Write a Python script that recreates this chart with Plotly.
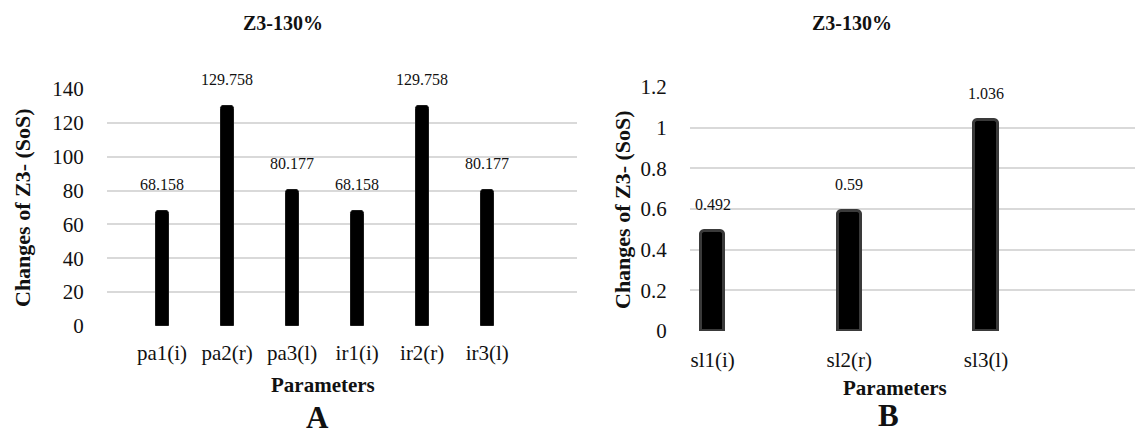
import plotly.graph_objects as go

# Panel A: parameter sensitivity (pa / ir groups)
params_a = ["pa1(i)", "pa2(r)", "pa3(l)", "ir1(i)", "ir2(r)", "ir3(l)"]
values_a = [68.158, 129.758, 80.177, 68.158, 129.758, 80.177]

# Panel B: slope parameters
params_b = ["sl1(i)", "sl2(r)", "sl3(l)"]
values_b = [0.492, 0.59, 1.036]

ticks_a = [0, 20, 40, 60, 80, 100, 120, 140]
ticks_b = [0, 0.2, 0.4, 0.6, 0.8, 1, 1.2]

SERIF = "Liberation Serif, Times New Roman, serif"
GRID = "#d9d9d9"
TXT = "#111111"

fig = go.Figure()

fig.add_trace(go.Bar(
    x=params_a, y=values_a, xaxis="x", yaxis="y",
    width=0.2, marker=dict(color="black", line=dict(color="#1a1a1a", width=1), cornerradius=3),
    hoverinfo="x+y", showlegend=False,
))
fig.add_trace(go.Bar(
    x=params_b, y=values_b, xaxis="x2", yaxis="y2",
    width=0.17, marker=dict(color="black", line=dict(color="#3a3a3a", width=3), cornerradius=4),
    hoverinfo="x+y", showlegend=False,
))

W, H = 1135, 438


def px_x(p):
    return p / W


def px_y(p):
    return 1 - p / H


axis_common = dict(
    showline=False, zeroline=False, automargin=False,
    tickfont=dict(family=SERIF, size=21, color=TXT),
    fixedrange=True,
)

fig.update_layout(
    width=W, height=H,
    margin=dict(l=0, r=0, t=0, b=0, autoexpand=False),
    paper_bgcolor="white", plot_bgcolor="white",
    bargap=0,
    xaxis=dict(domain=[px_x(107), px_x(577)], anchor="y", type="category",
               range=[-0.846, 6.38], showgrid=False, ticks="outside", ticklen=8,
               tickcolor="rgba(0,0,0,0)", **axis_common),
    yaxis=dict(domain=[px_y(326), px_y(89)], anchor="x", range=[0, 140],
               tickvals=ticks_a, showgrid=True, gridcolor=GRID, gridwidth=2,
               ticks="outside", ticklen=18, tickcolor="rgba(0,0,0,0)", **axis_common),
    xaxis2=dict(domain=[px_x(690), 1.0], anchor="y2", type="category",
                range=[-0.166, 3.09], showgrid=False, ticks="outside", ticklen=10,
                tickcolor="rgba(0,0,0,0)", **axis_common),
    yaxis2=dict(domain=[px_y(331), px_y(87)], anchor="x2", range=[0, 1.2],
                tickvals=ticks_b, ticktext=[f"{v:g}" for v in ticks_b],
                showgrid=True, gridcolor=GRID, gridwidth=2,
                ticks="outside", ticklen=18, tickcolor="rgba(0,0,0,0)", **axis_common),
)

annotations = []

# value labels above each bar
for cat, v in zip(params_a, values_a):
    annotations.append(dict(x=cat, y=v, xref="x", yref="y", text=f"{v:g}",
                            showarrow=False, xanchor="center", yanchor="bottom", yshift=16,
                            font=dict(family=SERIF, size=16, color=TXT)))
for cat, v in zip(params_b, values_b):
    annotations.append(dict(x=cat, y=v, xref="x2", yref="y2", text=f"{v:g}",
                            showarrow=False, xanchor="center", yanchor="bottom", yshift=16,
                            font=dict(family=SERIF, size=16, color=TXT)))

bold = dict(family=SERIF, color=TXT)


def label(x, y, text, size, angle=0):
    return dict(x=px_x(x), y=px_y(y), xref="paper", yref="paper", text=text,
                showarrow=False, xanchor="center", yanchor="middle", textangle=angle,
                font=dict(size=size, **bold))


# panel titles, axis titles and panel letters
for cx, title_y, ytitle_x, ytitle_y, xt_x, xt_y, letter, lx, ly in [
    (283, 23, 22, 208, 323, 385, "A", 317, 417),
    (852, 23, 623, 210, 895, 388, "B", 888, 415),
]:
    annotations.append(label(cx, title_y, "<b>Z3-130%</b>", 20))
    annotations.append(label(ytitle_x, ytitle_y, "<b>Changes of Z3- (SoS)</b>", 22, -90))
    annotations.append(label(xt_x, xt_y, "<b>Parameters</b>", 21))
    annotations.append(label(lx, ly, f"<b>{letter}</b>", 31))

fig.update_layout(annotations=annotations)

fig.write_html("out.html")
